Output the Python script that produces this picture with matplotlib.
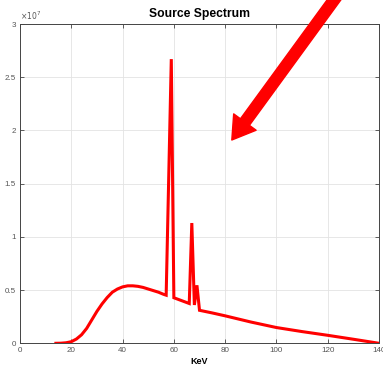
import matplotlib
matplotlib.use("Agg")
import matplotlib.pyplot as plt
from matplotlib.ticker import FuncFormatter

plt.rcParams['font.family'] = ['Liberation Sans', 'DejaVu Sans']

# Energy (keV) and counts
kev = [14, 16, 18, 20, 22, 24, 26, 28, 30, 32, 34, 36, 38, 40, 42, 44, 46, 48,
       50, 52, 54, 56, 57, 59, 60, 66, 67, 68, 69, 70, 75, 80, 90, 100, 110,
       120, 130, 140]
counts = [0.0, 0.001, 0.005, 0.015, 0.04, 0.08, 0.14, 0.22, 0.30, 0.37, 0.43,
          0.48, 0.51, 0.53, 0.54, 0.54, 0.535, 0.525, 0.51, 0.495, 0.48, 0.46,
          0.452, 2.67, 0.428, 0.374, 1.13, 0.36, 0.545, 0.31, 0.285, 0.258,
          0.20, 0.148, 0.11, 0.075, 0.038, 0.0]
counts = [c * 1e7 for c in counts]

x_ticks = [0, 20, 40, 60, 80, 100, 120, 140]
y_ticks = [0, 0.5e7, 1e7, 1.5e7, 2e7, 2.5e7, 3e7]

arrow_tip = (82.6, 1.91e7)
arrow_tail = (128.0, 3.41e7)

fig = plt.figure(figsize=(3.83, 3.67), dpi=100)
ax = fig.add_axes([0.0522, 0.0646, 0.9374, 0.870])

ax.plot(kev, counts, color='#ff0000', lw=2.2, solid_joinstyle='miter')

ax.set_xlim(0, 140)
ax.set_ylim(0, 3e7)
ax.set_xticks(x_ticks)
ax.set_yticks(y_ticks)
ax.yaxis.set_major_formatter(FuncFormatter(lambda v, p: '%g' % (v / 1e7)))

ax.grid(True, color='#e3e3e3', lw=0.6)
ax.set_axisbelow(True)
for s in ax.spines.values():
    s.set_color('#444444')
    s.set_linewidth(0.7)
ax.tick_params(direction='in', top=True, right=True, length=3, width=0.6,
               labelsize=5.8, color='#444444', labelcolor='#555555', pad=3)

ax.text(0.0, 1.005, r'$\times10^{7}$', transform=ax.transAxes, fontsize=5.5,
        color='#555555', ha='left', va='bottom')

ax.set_title('Source Spectrum', fontsize=8.7, fontweight='bold', pad=5)
ax.set_xlabel('KeV', fontsize=6.5, fontweight='bold', labelpad=2)

ax.annotate('', xy=arrow_tip, xytext=arrow_tail,
            arrowprops=dict(facecolor='#ff0000', edgecolor='#ff0000',
                            width=8, headwidth=20, headlength=16, shrink=0))

fig.savefig('out.png', dpi=100)
